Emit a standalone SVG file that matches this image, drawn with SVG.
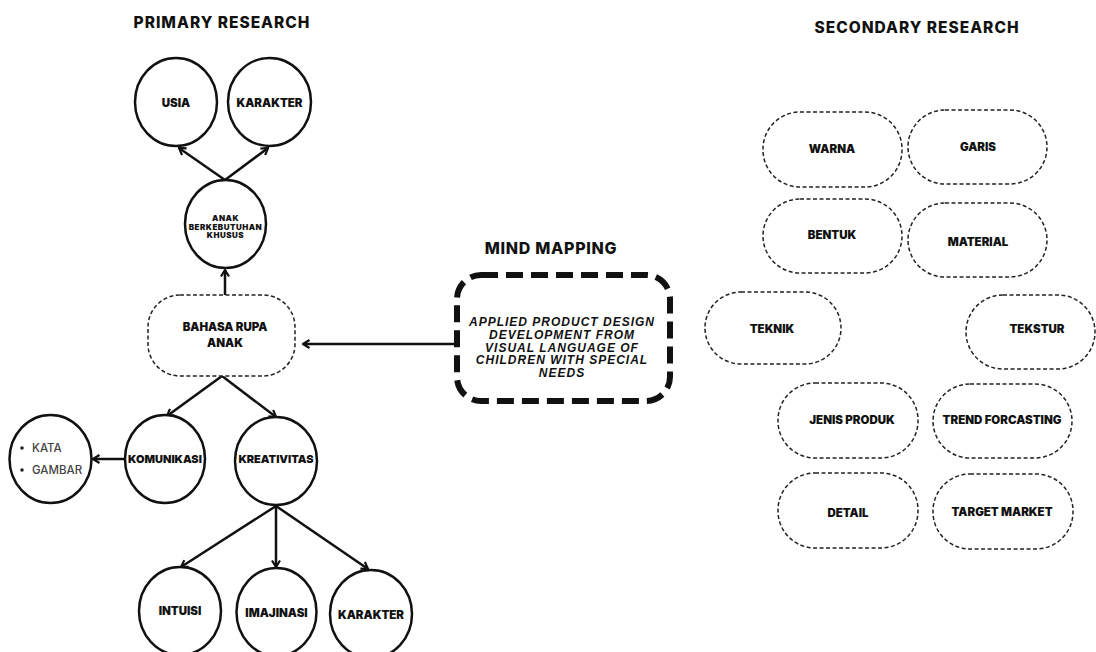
<svg xmlns="http://www.w3.org/2000/svg" width="1096" height="652" viewBox="0 0 1096 652">
<style>
.title{font-family:Inter,"Liberation Sans",sans-serif;font-weight:800;font-size:15.5px;letter-spacing:1px;fill:#111;text-anchor:middle}
.lbl{font-family:Inter,"Liberation Sans",sans-serif;font-weight:900;font-size:11.5px;fill:#111;text-anchor:middle;dominant-baseline:central}
.small{font-family:Inter,"Liberation Sans",sans-serif;font-weight:900;font-size:8px;letter-spacing:0.5px;fill:#111;text-anchor:middle}
.bul{font-family:Inter,"Liberation Sans",sans-serif;font-weight:500;font-size:11.5px;fill:#444}
.mm{font-family:"Liberation Sans",Arial,sans-serif;font-weight:bold;font-style:italic;font-size:12px;letter-spacing:1px;fill:#111;text-anchor:middle}
.circ{fill:#fff;stroke:#111;stroke-width:2.5}
.dash{fill:#fff;stroke:#222;stroke-width:1.5;stroke-dasharray:4 2.5}
.thick{fill:#fff;stroke:#111;stroke-width:6;stroke-dasharray:17 8}
.con line{stroke:#111;stroke-width:2.5;marker-end:url(#ah)}
</style>
<defs>
<marker id="ah" viewBox="0 0 10 10" refX="8.5" refY="5" markerWidth="10" markerHeight="10" markerUnits="userSpaceOnUse" orient="auto">
<path d="M2,1 L8.5,5 L2,9" fill="none" stroke="#111" stroke-width="2.2"/>
</marker>
</defs>
<rect width="1096" height="652" fill="#fff"/>
<text class="title" x="222" y="28">PRIMARY RESEARCH</text>
<text class="title" x="917" y="33">SECONDARY RESEARCH</text>
<text class="title" x="551" y="254" style="font-size:16px;letter-spacing:0.7px">MIND MAPPING</text>

<g class="con">
<line x1="225" y1="180" x2="179" y2="148"/>
<line x1="225" y1="180" x2="268" y2="148"/>
<line x1="225" y1="295" x2="225" y2="270"/>
<line x1="455" y1="344" x2="303" y2="344"/>
<line x1="222" y1="376" x2="167" y2="416"/>
<line x1="222" y1="376" x2="276" y2="417"/>
<line x1="125" y1="459" x2="93" y2="459"/>
<line x1="276" y1="506" x2="181" y2="567"/>
<line x1="276" y1="506" x2="276" y2="567"/>
<line x1="276" y1="506" x2="368" y2="569"/>
</g>

<g id="usia"><ellipse class="circ" cx="176" cy="102" rx="41" ry="44"/><text class="lbl" x="176" y="103">USIA</text></g>
<g id="karakter1"><ellipse class="circ" cx="269.5" cy="102" rx="41.5" ry="44"/><text class="lbl" x="269.5" y="103">KARAKTER</text></g>
<g id="abk"><ellipse class="circ" cx="225.5" cy="224" rx="40.5" ry="44"/>
<text class="small" x="225.5" y="221">ANAK</text><text class="small" x="225.5" y="229.5">BERKEBUTUHAN</text><text class="small" x="225.5" y="238">KHUSUS</text></g>
<g id="bahasa"><rect class="dash" x="148" y="295" width="147" height="81" rx="32"/>
<text class="lbl" x="225" y="327">BAHASA RUPA</text><text class="lbl" x="225" y="343">ANAK</text></g>
<g id="komunikasi"><ellipse class="circ" cx="165" cy="459" rx="40" ry="44"/><text class="lbl" x="165" y="459" style="font-size:11px">KOMUNIKASI</text></g>
<g id="kreativitas"><ellipse class="circ" cx="276" cy="461" rx="41" ry="44"/><text class="lbl" x="276" y="459" style="font-size:11px">KREATIVITAS</text></g>
<g id="katagambar"><ellipse class="circ" cx="50.5" cy="459" rx="41" ry="44"/>
<circle cx="22" cy="448" r="1.8" fill="#222"/><text class="bul" x="32" y="452">KATA</text>
<circle cx="22" cy="470" r="1.8" fill="#222"/><text class="bul" x="32" y="474">GAMBAR</text></g>
<g id="intuisi"><ellipse class="circ" cx="180" cy="611" rx="41" ry="44"/><text class="lbl" x="180" y="611">INTUISI</text></g>
<g id="imajinasi"><ellipse class="circ" cx="276.5" cy="612" rx="40" ry="44"/><text class="lbl" x="276.5" y="613">IMAJINASI</text></g>
<g id="karakter2"><ellipse class="circ" cx="371" cy="614" rx="41" ry="44"/><text class="lbl" x="371" y="615">KARAKTER</text></g>

<g id="mindmap"><rect class="thick" x="457" y="275" width="213" height="126" rx="24"/>
<text class="mm" x="562" y="326">APPLIED PRODUCT DESIGN</text>
<text class="mm" x="562" y="339">DEVELOPMENT FROM</text>
<text class="mm" x="562" y="352">VISUAL LANGUAGE OF</text>
<text class="mm" x="562" y="364">CHILDREN WITH SPECIAL</text>
<text class="mm" x="562" y="377">NEEDS</text></g>

<g id="warna"><rect class="dash" x="763" y="112" width="139" height="75" rx="37"/><text class="lbl" x="832" y="149">WARNA</text></g>
<g id="garis"><rect class="dash" x="908" y="110" width="139" height="74" rx="37"/><text class="lbl" x="978" y="147">GARIS</text></g>
<g id="bentuk"><rect class="dash" x="763" y="199" width="139" height="74" rx="37"/><text class="lbl" x="832" y="235">BENTUK</text></g>
<g id="material"><rect class="dash" x="908" y="203" width="139" height="74" rx="37"/><text class="lbl" x="978" y="242">MATERIAL</text></g>
<g id="teknik"><rect class="dash" x="705" y="292" width="136" height="72" rx="36"/><text class="lbl" x="772" y="329">TEKNIK</text></g>
<g id="tekstur"><rect class="dash" x="966" y="295" width="129" height="74" rx="37"/><text class="lbl" x="1037" y="329">TEKSTUR</text></g>
<g id="jenisproduk"><rect class="dash" x="778" y="383" width="140" height="75" rx="37"/><text class="lbl" x="852" y="420">JENIS PRODUK</text></g>
<g id="trend"><rect class="dash" x="933" y="384" width="139" height="74" rx="37"/><text class="lbl" x="1002" y="420">TREND FORCASTING</text></g>
<g id="detail"><rect class="dash" x="778" y="473" width="140" height="75" rx="37"/><text class="lbl" x="848" y="513">DETAIL</text></g>
<g id="target"><rect class="dash" x="933" y="474" width="140" height="75" rx="37"/><text class="lbl" x="1002" y="512">TARGET MARKET</text></g>
</svg>
